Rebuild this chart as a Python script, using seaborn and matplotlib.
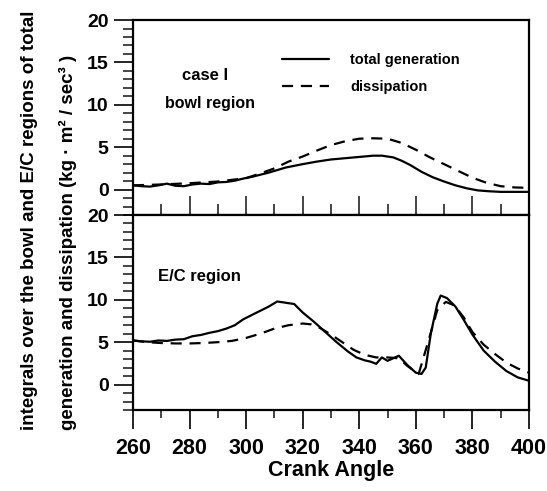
import numpy as np
import pandas as pd
import matplotlib
matplotlib.use("Agg")
import matplotlib.pyplot as plt
from matplotlib.ticker import MultipleLocator
import seaborn as sns

# ---------------- data ----------------
bowl_gen_x = [260, 263, 266, 269, 272, 275, 278, 281, 284, 287, 290, 293, 296, 299, 302, 305,
              308, 311, 314, 317, 320, 325, 330, 335, 340, 345, 348, 352, 355, 358, 362, 366,
              370, 374, 378, 382, 386, 390, 395, 400]
bowl_gen_y = [0.5, 0.4, 0.35, 0.5, 0.7, 0.45, 0.4, 0.6, 0.7, 0.65, 0.85, 0.9, 1.05, 1.3, 1.5, 1.75,
              2.0, 2.3, 2.6, 2.8, 3.0, 3.3, 3.55, 3.7, 3.85, 4.0, 4.0, 3.8, 3.4, 2.9, 2.1, 1.45,
              0.95, 0.5, 0.15, -0.1, -0.2, -0.27, -0.27, -0.27]

bowl_dis_x = [260, 270, 280, 290, 300, 305, 310, 315, 320, 325, 330, 335, 340, 345, 350, 355,
              360, 365, 370, 375, 380, 385, 390, 395, 400]
bowl_dis_y = [0.5, 0.6, 0.75, 0.95, 1.35, 1.9, 2.5, 3.3, 3.9, 4.6, 5.25, 5.7, 6.0, 6.05, 6.0, 5.5,
              4.7, 3.8, 3.0, 2.2, 1.4, 0.8, 0.4, 0.25, 0.2]

ec_gen_x = [260, 263, 266, 269, 272, 275, 278, 281, 284, 287, 290, 293, 296, 299, 302, 305, 308,
            311, 313, 315, 317, 320, 324, 328, 332, 336, 339, 342, 344, 346, 348, 350, 352, 354,
            357, 360, 362, 363.5, 365.3, 367.6, 368.8, 371, 374, 377, 380, 384, 388, 392, 396, 400]
ec_gen_y = [5.2, 5.1, 5.05, 5.2, 5.15, 5.3, 5.35, 5.7, 5.85, 6.1, 6.3, 6.6, 7.0, 7.7, 8.2, 8.7, 9.2,
            9.8, 9.7, 9.6, 9.5, 8.5, 7.4, 6.2, 5.0, 3.9, 3.2, 2.85, 2.7, 2.45, 3.2, 2.8, 3.1, 3.4,
            2.3, 1.4, 1.25, 2.0, 6.0, 9.55, 10.5, 10.2, 9.2, 7.6, 5.9, 4.0, 2.7, 1.6, 0.85, 0.45]

ec_dis_x = [260, 265, 270, 275, 280, 285, 290, 295, 300, 305, 310, 315, 320, 323, 326, 330, 334,
            338, 342, 346, 350, 354, 357, 361, 364.5, 367.6, 370.6, 373.6, 377, 380, 384, 388,
            392, 396, 400]
ec_dis_y = [5.2, 5.0, 4.9, 4.85, 4.85, 4.9, 5.0, 5.15, 5.5, 6.0, 6.6, 7.0, 7.2, 7.1, 6.7, 5.9, 5.0,
            4.1, 3.5, 3.2, 3.2, 3.1, 2.2, 1.25, 5.2, 8.8, 9.75, 9.35, 7.9, 6.2, 4.7, 3.6,
            2.6, 1.9, 1.4]

series_names = ["total generation", "dissipation"]
x_ticks = [260, 280, 300, 320, 340, 360, 380, 400]
y_ticks = [0, 5, 10, 15, 20]


def to_frame(gx, gy, dx, dy):
    a = pd.DataFrame({"angle": gx, "value": gy, "series": series_names[0]})
    b = pd.DataFrame({"angle": dx, "value": dy, "series": series_names[1]})
    return pd.concat([a, b], ignore_index=True)


bowl_df = to_frame(bowl_gen_x, bowl_gen_y, bowl_dis_x, bowl_dis_y)
ec_df = to_frame(ec_gen_x, ec_gen_y, ec_dis_x, ec_dis_y)

# ---------------- style ----------------
sns.set_theme(style="ticks")
plt.rcParams["font.family"] = ["Liberation Sans", "DejaVu Sans"]
plt.rcParams["font.weight"] = "bold"
plt.rcParams["axes.linewidth"] = 1.6
plt.rcParams["text.color"] = "black"
plt.rcParams["axes.labelcolor"] = "black"

fig = plt.figure(figsize=(5.47, 4.91), dpi=100)
ax1 = fig.add_axes([0.2431, 0.5621, 0.7239, 0.3971])
ax2 = fig.add_axes([0.2431, 0.1650, 0.7239, 0.3971])

dash_map = {series_names[0]: "", series_names[1]: (5, 3.5)}

sns.lineplot(data=bowl_df, x="angle", y="value", style="series", style_order=series_names,
             dashes=dash_map, color="black", linewidth=1.6, ax=ax1, sort=False)
sns.lineplot(data=ec_df, x="angle", y="value", style="series", style_order=series_names,
             dashes=dash_map, color="black", linewidth=1.6, ax=ax2, sort=False, legend=False)

for ax in (ax1, ax2):
    ax.set_xlim(260, 400)
    ax.set_ylim(-3, 20)
    ax.set_yticks(y_ticks)
    ax.yaxis.set_minor_locator(MultipleLocator(1))
    ax.xaxis.set_major_locator(MultipleLocator(20))
    ax.xaxis.set_minor_locator(MultipleLocator(10))
    ax.tick_params(axis="y", which="major", direction="out", length=14, width=1.2,
                   labelsize=14, pad=3.5, colors="black")
    ax.tick_params(axis="y", which="minor", direction="out", length=7, width=1.2)
    ax.set_xlabel("")
    ax.set_ylabel("")
    for s in ax.spines.values():
        s.set_visible(True)
        s.set_color("black")
        s.set_linewidth(1.6)

# top panel: inward x ticks, no labels
ax1.tick_params(axis="x", which="major", direction="in", length=14, width=1.2, labelbottom=False)
ax1.tick_params(axis="x", which="minor", direction="in", length=8, width=1.2)
# bottom panel: outward x ticks with labels
ax2.set_xticks(x_ticks)
ax2.tick_params(axis="x", which="major", direction="out", length=14, width=1.2,
                labelsize=15.5, pad=6, colors="black")
ax2.tick_params(axis="x", which="minor", direction="out", length=6, width=1.2)
ax2.set_xlabel("Crank Angle", fontsize=15.5, labelpad=1, fontweight="bold", color="black")

# annotations
ax1.text(285.5, 13.5, "case I", fontsize=12, ha="center", va="center", color="black")
ax1.text(287.3, 10.2, "bowl region", fontsize=11.5, ha="center", va="center", color="black")
ax2.text(283.5, 12.7, "E/C region", fontsize=12, ha="center", va="center", color="black")

handles, labels = ax1.get_legend_handles_labels()
leg = ax1.legend(handles, labels, loc="upper left", bbox_to_anchor=(0.376, 0.83),
                 frameon=False, fontsize=10.5, handlelength=3.2, handletextpad=1.5,
                 labelspacing=0.9, borderpad=0, borderaxespad=0)
for t in leg.get_texts():
    t.set_color("black")

# y label in two lines
fig.text(30 / 547, 1 - 430 / 491, "integrals over the bowl and E/C regions of total",
         rotation=90, ha="center", va="bottom", fontsize=13.5, color="black")
fig.text(68 / 547, 1 - 430 / 491, "generation and dissipation (kg · m² / sec³ )",
         rotation=90, ha="center", va="bottom", fontsize=13.5, color="black")

fig.savefig("out.png", dpi=100, facecolor="white")
